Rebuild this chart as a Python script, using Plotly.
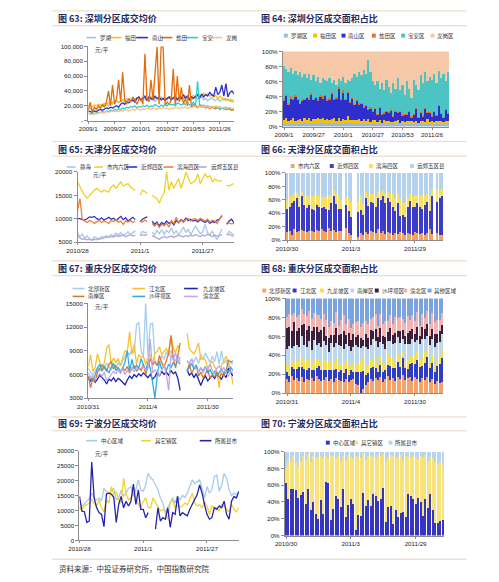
import plotly.graph_objects as go

W, H = 499, 582
CJK = "Noto Sans CJK SC"
TICKF = "Liberation Sans"
AXIS = "#8c8c8c"
BAND = "#E8D6C2"
TITLE_C = "#1F2A5C"

# ---------------- Shenzhen (fig 63 / 64), biweekly from 2009/1 ----------------
SZ_WEEKS = list(range(0, 146, 2))
SZ_TICK_POS = [0, 26, 52, 78, 104, 130]
SZ_TICK_LAB = ["2009/1", "2009/27", "2010/1", "2010/27", "2010/53", "2011/26"]
SZ_NAMES = ["罗湖", "福田", "南山", "盐田", "宝安", "龙岗"]
SZ_LUOHU = [15000,16000,14000,17000,16000,18000,17000,19000,20000,22000,
            20000,24000,22000,25000,27000,24000,26000,28000,25000,30000,
            27000,29000,26000,30000,28000,32000,27000,30000,29000,27000,
            31000,28000,30000,26000,29000,31000,28000,30000,27000,29000,
            32000,28000,30000,27000,29000,31000,28000,30000,33000,29000,
            31000,28000,30000,32000,29000,31000,33000,28000,30000,27000,
            29000,31000,28000,27000,30000,26000,28000,30000,27000,29000,
            26000,28000,27000]
SZ_FUTIAN = [20000,18000,19000,21000,20000,22000,21000,20000,23000,22000,
             24000,23000,25000,24000,27000,25000,26000,28000,27000,25000,
             29000,27000,30000,28000,31000,29000,27000,30000,32000,28000,
             30000,33000,29000,31000,28000,30000,32000,29000,31000,28000,
             30000,33000,29000,31000,30000,28000,32000,30000,33000,31000,
             29000,32000,34000,31000,33000,35000,32000,37000,34000,36000,
             33000,35000,32000,34000,30000,33000,31000,28000,30000,27000,
             29000,25000,26000]
SZ_NANSHAN = [13000,12000,11000,13000,12000,14000,15000,14000,16000,17000,
              16000,18000,17000,19000,20000,18000,22000,24000,22000,25000,
              24000,26000,28000,25000,30000,32000,28000,30000,33000,27000,
              32000,30000,28000,33000,30000,32000,28000,30000,27000,30000,
              32000,28000,30000,33000,28000,32000,30000,35000,30000,33000,
              28000,32000,30000,33000,35000,30000,36000,32000,35000,33000,
              38000,35000,33000,45000,35000,38000,48000,33000,50000,32000,
              38000,40000,36000]
SZ_YANTIAN = [15000,25000,10000,18000,15000,20000,17000,22000,18000,25000,
              40000,20000,48000,22000,30000,55000,25000,65000,28000,22000,
              30000,25000,32000,28000,22000,28000,30000,22000,90000,30000,
              25000,55000,28000,60000,100000,22000,100000,100000,20000,25000,
              22000,28000,70000,20000,60000,25000,45000,22000,30000,20000,
              48000,18000,22000,20000,18000,20000,18000,19000,17000,18000,
              16000,18000,17000,16000,18000,15000,17000,16000,15000,16000,
              15000,14000,15000]
SZ_BAOAN = [10000,9000,10000,9000,11000,10000,11000,12000,11000,13000,
            12000,14000,13000,15000,14000,16000,15000,17000,16000,18000,
            17000,19000,18000,20000,17000,19000,18000,20000,19000,21000,
            18000,20000,19000,22000,20000,18000,21000,19000,22000,20000,
            23000,21000,22000,20000,24000,22000,21000,23000,22000,24000,
            21000,22000,25000,20000,53000,22000,20000,21000,19000,20000,
            18000,19000,18000,17000,18000,16000,17000,16000,18000,15000,
            16000,15000,16000]
SZ_LONGGANG = [10000,9000,8000,10000,9000,10000,11000,10000,11000,12000,
               11000,12000,13000,12000,13000,12000,14000,13000,14000,15000,
               13000,14000,15000,14000,16000,15000,14000,16000,15000,17000,
               16000,15000,17000,16000,15000,17000,16000,18000,16000,17000,
               15000,17000,16000,18000,17000,16000,18000,17000,19000,16000,
               18000,17000,19000,18000,17000,19000,18000,20000,18000,19000,
               17000,19000,18000,20000,18000,19000,17000,18000,16000,17000,
               18000,16000,17000]

SZS_NAMES = ["罗湖区", "福田区", "南山区", "盐田区", "宝安区", "龙岗区"]
SZS_LUOHU = [4,5,3,4,5,4,3,5,4,6, 4,5,3,4,5,4,6,5,4,3, 5,4,6,4,5,3,4,5,6,4,
             3,5,4,3,4,5,3,4,3,4, 5,3,4,3,5,4,3,4,3,4, 6,3,4,3,5,4,3,4,5,3,
             4,3,4,5,3,2,4,3,4,3, 4,3,4]
SZS_FUTIAN = [5,6,4,5,7,4,6,5,3,6, 5,7,4,6,5,8,4,6,5,7, 4,6,5,3,7,5,6,4,8,5,
              6,4,5,7,3,5,4,6,3,5, 4,3,5,2,4,3,5,2,3,4, 3,2,4,3,2,3,4,2,3,2,
              3,4,2,5,3,6,2,4,3,5, 2,4,3]
SZS_NANSHAN = [25,30,22,28,24,32,26,20,27,23, 29,24,35,25,28,22,30,26,32,24,
               27,33,25,30,38,28,35,26,31,22, 28,20,25,18,23,15,20,12,18,10,
               14,9,16,11,8,13,10,15,7,12, 9,14,6,10,8,12,5,9,15,7,
               11,6,18,8,12,5,14,7,20,9, 6,15,10]
SZS_YANTIAN = [2,1,2,3,1,2,2,1,3,2, 1,2,3,2,1,2,2,3,1,2, 2,3,1,2,2,1,3,2,2,1,
               2,1,2,3,1,2,2,1,2,1, 1,2,1,1,2,1,1,2,1,1, 1,1,2,1,1,1,2,1,1,1,
               1,2,1,1,1,2,1,1,2,1, 1,1,1]
SZS_BAOAN = [44,34,41,38,33,32,31,41,29,33, 26,32,17,31,21,30,16,24,20,24,
             27,12,25,16,11,23,18,21,15,28, 25,40,30,41,37,48,41,65,46,40,
             31,43,24,41,29,41,33,22,44,29, 46,28,39,25,44,30,24,46,31,35,
             49,43,47,41,47,47,49,43,45,46, 57,37,54]
SZS_LONGGANG = [20,24,28,22,30,26,32,28,34,30, 35,30,38,32,40,34,42,36,38,40,
                35,42,38,45,37,40,34,42,38,40, 36,30,34,28,32,25,30,12,28,40,
                45,40,50,42,52,38,48,55,42,50, 35,52,45,58,40,50,62,38,45,52,
                32,42,28,40,34,38,30,42,26,36, 30,40,28]

# ---------------- Tianjin (fig 65 / 66) ----------------
TJ_TICK_POS = [0, 26, 52]
TJ_TICK_LAB = ["2010/28", "2011/1", "2011/27"]
TJ_NAMES = ["静海", "市内六区", "近郊四区", "滨海四区", "远郊五区县"]
TJ_JINGHAI = [7000,6200,6700,5800,6300,5700,5500,6100,5900,5600,
              6200,6000,6400,6100,6600,6300,6900,6500,7000,6400,
              6800,7200,6600,7000,7400,None,6600,7300,7000,7200,
              None,7200,6500,7500,6800,7700,6700,7500,7000,8000,
              6800,7400,6500,7300,8200,7100,7700,6600,7400,8400,
              7600,6800,7200,8800,7000,6500,7400,6200,5600,6800,
              7800,None,6600,7300,6900,6500]
TJ_SHINEI = [17900,16800,15800,15000,14400,15000,15600,16100,16500,16000,
             15700,16100,15900,15700,16800,17200,16500,17200,17900,17000,
             17200,17500,16800,16500,16100,None,15000,16100,15800,15400,
             None,15000,14700,14300,13300,14700,15500,20000,16100,17900,
             16500,17500,18600,16500,18000,20000,18600,17500,17800,18200,
             19600,17500,18500,19600,18900,19200,17900,18500,18200,18000,
             18200,None,17200,17000,17300,17500]
TJ_JINJIAO = [10000,10000,9800,9700,10000,10400,10300,10500,10000,9800,
              10200,9700,10000,10300,9900,10100,9600,10000,10500,9800,
              10200,9500,10000,10300,9800,None,9300,9900,10200,10400,
              None,9500,8800,9300,8500,9200,8800,9500,9000,9300,
              8700,9600,9200,9800,9400,10100,9600,9900,9500,9700,
              9300,9800,9500,9200,9600,9000,9400,9200,9700,9900,
              10600,None,8800,9500,9900,9100]
TJ_BINHAI = [11800,14300,9800,9500,9200,9600,9400,9000,9300,9700,
             9200,9500,9300,9000,9600,9400,9800,9200,9500,8800,
             9500,9300,9600,9200,9500,None,9600,9300,9700,9400,
             None,9000,8400,9000,8100,8800,8500,9000,8200,9600,
             9000,10300,9000,9700,9200,9800,10100,9500,9900,10000,
             9600,10100,9800,9500,9900,9300,9700,9500,9000,9800,
             10800,None,9200,9000,8900,9000]
TJ_YUANJIAO = [6500,5900,5600,5700,5500,5600,5400,5600,5500,5800,
               5700,5900,6100,6000,6200,6100,6400,6200,6300,6500,
               6200,6400,6600,6300,6500,None,6300,6600,6400,6700,
               None,6400,6100,5800,5600,6000,6200,5900,6100,6300,
               6000,6200,6500,6300,6100,6400,6200,6500,6300,6600,
               6400,6200,6500,6300,6700,6400,6200,6500,6300,6400,
               6600,None,6500,6700,6400,6300]

TJS_TICK_LAB = ["2010/30", "2011/3", "2011/29"]
TJS_NAMES = ["市内六区", "近郊四区", "滨海四区", "远郊五区县"]
TJS_SHINEI = [12,14,8,16,12,13,15,14,12,13, 14,12,15,13,16,14,12,18,13,15,
              12,14,13,None,18,10,8,None,None,4, 10,8,12,9,14,12,10,16,11,13,
              9,12,10,8,11,9,12,10,8,10, 9,8,12,10,9,11,8,10,16,9, None,10,8,7]
TJS_JINJIAO = [35,36,47,42,50,37,50,38,36,39, 33,33,38,36,32,35,34,27,42,51,
               42,33,34,None,34,33,27,None,None,38, 35,30,50,42,43,43,40,47,49,53,
               47,50,47,42,33,46,24,28,27,39, 49,42,37,45,41,36,44,47,28,57, None,47,55,59]
TJS_BINHAI = [12,15,10,12,8,15,6,14,16,14, 18,20,14,17,16,15,18,20,12,8,
              14,18,12,None,12,20,22,None,None,15, 22,18,10,14,12,14,16,8,10,8,
              14,10,12,18,20,15,25,18,22,14, 10,15,18,12,16,20,14,12,22,10, None,18,12,10]
TJS_YUANJIAO = [41,35,35,30,30,35,29,34,36,34, 35,35,33,34,36,36,36,35,33,26,
                32,35,41,None,36,37,43,None,None,43, 33,44,28,35,31,31,34,29,30,26,
                30,28,31,32,36,30,39,44,43,37, 32,35,33,33,34,33,34,31,34,24, None,25,25,24]

# ---------------- Chongqing (fig 67 / 68) ----------------
CQ_TICK_LAB = ["2010/31", "2011/4", "2011/30"]
CQ_NAMES = ["北部新区", "江北区", "九龙坡区", "南岸区", "沙坪坝区", "渝北区"]
CQ_BEIBU = [6800,6300,6000,6500,6900,6400,7200,6800,7400,7000,
            6600,7300,6900,7500,7100,7800,8200,8800,8500,9200,
            8700,12300,12600,9000,8200,15000,8300,12400,12500,7800,
            7200,7600,8400,7900,8900,8300,9000,8200,7700,8400,
            7600,None,None,7700,7300,8000,7600,8200,7400,8500,
            7900,8700,8100,7500,8300,7600,8900,7300,9000,7400,
            7800,6900,7600,7300]
CQ_JIANGBEI = [7000,8500,6400,6900,8600,7700,6600,7500,9300,9800,
               7300,8100,7500,8000,7100,8100,9000,8900,11400,8500,
               9800,7300,8500,8100,8300,7300,8100,8500,7200,8700,
               8900,9500,8500,8900,9300,8600,11000,9400,8800,9600,
               9300,None,None,11200,9300,8900,8600,9200,10000,7900,
               8100,7800,6800,7300,7700,7000,6400,4300,7200,7700,
               8300,7400,6500,4700]
CQ_JIULONGPO = [5700,5200,5500,5000,5400,5900,5600,5300,4800,5400,
                5200,5600,5100,5500,5300,5000,4700,5300,5800,5500,
                6000,5700,6100,5800,6200,5900,5600,6000,5400,5700,
                6300,5800,6400,6000,6300,5900,6500,6100,6300,5500,
                4000,None,None,6600,5900,6200,5600,6100,5200,4600,
                5400,5800,5200,5600,5900,5500,6100,5700,5400,6000,
                5600,6800,6300,5800]
CQ_NANAN = [5800,4300,5600,5100,6300,6800,7200,6900,6400,7300,
            7600,6700,7100,6600,6200,6800,6500,7000,6200,6700,
            7100,6400,6800,6500,7300,6000,6900,8000,7200,7600,
            7100,8400,7500,6900,7800,8700,10900,8100,6800,8600,
            10000,None,None,6500,7300,6200,6800,7200,5800,6300,
            5600,6100,6600,5500,6000,5700,6300,5600,6100,5800,
            6500,7800,7600,7700]
CQ_SHAPINGBA = [5300,5600,5100,6000,6800,7300,6400,7000,6600,6200,
                6900,7400,6500,6900,6400,6800,7600,9000,6400,7900,
                6700,7200,6800,8000,7200,6500,7600,6800,5000,3000,
                5800,7700,6600,7100,6500,7300,6900,7500,7100,7700,
                7300,None,None,6400,6900,7400,6700,7100,6300,6800,
                6500,7000,6200,6600,6000,6400,5800,6300,6700,6100,
                6600,6300,6900,6500]
CQ_YUBEI = [6200,5600,5900,5400,5700,6100,5800,6300,5200,5600,
            6000,6400,6100,6600,6300,6700,6000,6500,6200,6800,
            6400,6900,6600,6800,7000,6500,6800,10500,6200,6600,
            6300,5800,6700,7200,6000,4000,8500,7800,8800,7500,
            8200,None,None,7800,7400,7900,7100,6700,6400,6900,
            6200,7000,6600,7300,6500,6100,6800,7100,6400,6900,
            6200,5800,6400,6100]

CQS_TICK_LAB = ["2010/31", "2011/4", "2011/30"]
CQS_NAMES = ["北部新区", "江北区", "九龙坡区", "南岸区", "沙坪坝区", "渝北区", "其他区域"]
CQS_BEIBU = [15,12,18,14,16,13,17,12,15,14, 16,13,18,15,12,14,17,13,15,12,
             16,14,13,11,15,12,14,16,10,8, 0,5,9,12,15,13,16,14,17,12,
             15,18,14,16,13,17,15,19,14,16, 18,13,17,15,12,16,14,18,12,15, 10,13,11,12]
CQS_JIANGBEI = [8,6,10,12,9,15,11,14,10,13, 8,12,9,14,11,10,7,12,9,13,
                10,8,12,9,11,7,10,8,12,14, 22,18,10,9,12,15,11,8,13,10,
                9,12,15,11,14,16,12,18,13,10, 15,19,14,20,16,12,18,22,15,17, 12,16,20,25]
CQS_JIULONGPO = [10,12,8,6,9,7,10,8,11,9, 7,10,8,6,9,11,8,7,10,9,
                 12,8,7,10,9,11,6,8,7,9, 12,15,10,8,9,7,11,8,10,9,
                 7,12,8,10,6,9,11,8,7,10, 9,6,8,10,7,9,11,8,6,10, 8,7,9,10]
CQS_NANAN = [15,20,12,18,16,14,22,17,13,19, 15,21,16,18,14,20,17,12,19,15,
             16,21,18,14,17,20,15,19,22,16, 14,12,20,18,15,22,17,19,14,21,
             16,13,18,15,20,17,14,12,18,16, 13,19,15,11,17,20,14,16,18,15, 19,17,14,16]
CQS_SHAPINGBA = [22,20,18,25,15,20,12,22,18,16, 20,14,19,12,17,15,10,14,8,12,
                 16,10,13,18,9,14,11,15,8,12, 10,6,14,11,16,9,13,10,15,8,
                 12,10,14,9,11,7,13,10,8,12, 15,11,9,14,8,12,10,13,9,11, 14,10,12,9]
CQS_YUBEI = [12,14,16,10,15,13,17,11,14,16, 12,15,13,17,11,14,16,12,15,13,
             17,10,14,16,12,15,13,11,16,14, 12,18,13,15,11,14,16,12,15,13,
             17,11,14,12,16,13,15,11,14,17, 12,15,13,16,11,14,12,15,13,17, 12,14,11,13]
CQS_OTHER = [20,16,18,15,19,18,11,16,19,13, 22,15,17,18,21,16,22,30,24,26,
             15,29,23,17,27,22,31,28,25,23, 30,26,24,27,22,20,16,29,16,27,
             24,24,17,27,20,21,19,22,26,19, 24,17,24,14,29,16,20,14,27,15, 25,23,23,15]

# ---------------- Ningbo (fig 69 / 70) ----------------
NB_TICK_LAB = ["2010/28", "2011/1", "2011/27"]
NB_NAMES = ["中心区域", "其它镇区", "所属县市"]
NB_CENTER = [10000,11500,12200,13100,14000,15800,14200,13500,14200,13200,
             17400,16400,15800,16400,17400,13600,14200,16800,14800,15800,
             17400,18000,14800,17000,20200,16800,16400,18500,22400,21000,
             20200,18500,17000,14200,12500,9300,10900,12800,14200,12500,
             14800,13600,15000,14400,15800,18000,20200,19000,19600,20200,
             17500,14200,18000,15800,17000,21300,21800,16400,18500,22400,
             20800,17000,15000,15800,15400,16000]
NB_OTHER = [10900,10400,11500,12000,12500,13600,12300,11500,13600,10900,
            9500,13600,12500,18000,15300,16300,13600,12500,20700,15500,
            13600,14100,16200,13600,12000,10900,13000,14200,11000,10900,
            14200,12800,10900,9800,10400,9300,7100,12500,13600,10900,
            11500,11000,11500,12500,12000,13600,15800,12500,11500,12000,
            10900,12800,11500,8700,11500,11000,10900,9800,12000,11500,
            10400,9600,12000,10400,9500,11000]
NB_COUNTY = [14700,9800,9600,6000,6500,26200,14200,10900,9300,8700,
             4600,15500,15800,15500,14400,6000,12000,14700,10900,13100,
             11500,13100,18800,12000,16900,10400,10400,7600,9300,None,
             None,3800,10900,6500,7600,7100,10900,4400,9300,8700,
             14700,8200,9300,8700,8200,10400,12000,13500,15300,18500,
             15800,12000,8700,7100,7600,10900,10400,11500,10900,13100,
             8700,7100,13100,14700,14200,16400]

NBS_TICK_LAB = ["2010/30", "2011/3", "2011/29"]
NBS_CENTER = [63,43,55,55,54,45,48,52,38,56, 30,40,26,20,42,26,64,62,18,31,
              47,44,34,55,22,36,43,38,7,25, 23,51,35,42,35,49,47,41,43,57,
              16,34,35,14,30,22,27,28,22,50, 47,44,38,45,40,23,44,33,50,30, 15,15,17,19]
NBS_OTHER = [17,44,32,41,33,37,40,43,52,41, 58,55,67,74,53,66,32,29,77,65,
             45,52,54,40,68,60,50,54,88,69, 69,46,55,53,61,45,45,55,52,40,
             72,59,61,81,62,72,69,62,73,43, 45,52,56,45,55,70,52,56,44,62, 72,70,71,65]
NBS_COUNTY = [20,13,13,4,13,18,12,5,10,3, 12,5,7,6,5,8,4,9,5,4,
              8,4,12,5,10,4,7,8,5,6, 8,3,10,5,4,6,8,4,5,3,
              12,7,4,5,8,6,4,10,5,7, 8,4,6,10,5,7,4,11,6,8, 13,15,12,16]

PCT_VALS = [0, 20, 40, 60, 80, 100]
PCT_TEXT = ["0%", "20%", "40%", "60%", "80%", "100%"]

# ---------------- helpers ----------------
def px(x):
    return x / W

def py(y):
    return 1 - y / H

fig = go.Figure()
layout = {}
shapes = []
annos = []
LEG_SIZE = 5.5


def add_axes(i, x0, x1, y0, y1, xr, yr, xtv, xtt, ytv, ytt):
    xa = "xaxis" if i == 1 else f"xaxis{i}"
    ya = "yaxis" if i == 1 else f"yaxis{i}"
    xid = "x" if i == 1 else f"x{i}"
    yid = "y" if i == 1 else f"y{i}"
    common = dict(showgrid=False, zeroline=False, showline=True, linecolor=AXIS,
                  linewidth=1, ticks="outside", tickwidth=1, tickcolor=AXIS,
                  tickfont=dict(family=TICKF, size=6.2, color="#222"),
                  fixedrange=True, tickmode="array", tickangle=0)
    layout[xa] = dict(domain=[px(x0), px(x1)], anchor=yid, range=xr,
                      tickvals=xtv, ticktext=xtt, ticklen=2, **common)
    layout[ya] = dict(domain=[py(y1), py(y0)], anchor=xid, range=yr,
                      tickvals=ytv, ticktext=ytt, ticklen=3, **common)
    return xid, yid


def lines(xid, yid, names, seriess, colors, width=1.3):
    for name, ys, c in zip(names, seriess, colors):
        fig.add_trace(go.Scatter(x=list(range(len(ys))), y=ys, name=name, mode="lines",
                                 line=dict(color=c, width=width), xaxis=xid, yaxis=yid,
                                 showlegend=False, hoverinfo="skip", connectgaps=False))


def bars(xid, yid, xs, names, seriess, colors, width):
    for name, ys, c in zip(names, seriess, colors):
        fig.add_trace(go.Bar(x=xs, y=ys, name=name, width=width,
                             marker=dict(color=c, line=dict(width=0)),
                             xaxis=xid, yaxis=yid, showlegend=False, hoverinfo="skip"))


def text(x, y, s, size=LEG_SIZE, color="#333", anchor="left", family=CJK):
    annos.append(dict(xref="paper", yref="paper", x=px(x), y=py(y), text=s,
                      xanchor=anchor, yanchor="middle", showarrow=False,
                      font=dict(family=family, size=size, color=color)))


def leg_line(x0, x1, tx, y, color, label):
    shapes.append(dict(type="line", xref="paper", yref="paper", x0=px(x0), x1=px(x1),
                       y0=py(y), y1=py(y), line=dict(color=color, width=1.6)))
    text(tx, y, label)


def leg_box(x, y, color, label):
    shapes.append(dict(type="rect", xref="paper", yref="paper", x0=px(x - 2), x1=px(x + 2),
                       y0=py(y + 2), y1=py(y - 2), fillcolor=color, line=dict(width=0)))
    text(x + 3, y, label)


def band(y_top, y_bot, y_title, x_left, title_left, x_right, title_right):
    for yy in (y_top, y_bot):
        shapes.append(dict(type="line", xref="paper", yref="paper", x0=px(42), x1=px(466),
                           y0=py(yy), y1=py(yy), line=dict(color=BAND, width=1)))
    text(x_left, y_title, "<b>" + title_left + "</b>", size=9, color=TITLE_C)
    text(x_right, y_title, "<b>" + title_right + "</b>", size=9, color=TITLE_C)


# ---------------- title bands ----------------
band(7, 22, 15, 46, "图 63: 深圳分区成交均价", 254, "图 64: 深圳分区成交面积占比")
band(139, 154, 147, 46, "图 65: 天津分区成交均价", 254, "图 66: 天津分区成交面积占比")
band(260, 275, 268, 46, "图 67: 重庆分区成交均价", 254, "图 68: 重庆分区成交面积占比")
band(418, 432, 425, 46, "图 69: 宁波分区成交均价", 254, "图 70: 宁波分区成交面积占比")
shapes.append(dict(type="line", xref="paper", yref="paper", x0=px(42), x1=px(466),
                   y0=py(562), y1=py(562), line=dict(color=BAND, width=1)))
text(47, 571, "资料来源：中投证券研究所，中国指数研究院", size=7.5, color="#333")

# ---------------- fig 63 ----------------
SZ_COLORS = ["#9DC3E6", "#FFC000", "#3333CC", "#E46C0A", "#33CCCC", "#FAC090"]
x1_, y1_ = add_axes(1, 79, 228, 43, 118, [0, 144], [0, 100000], SZ_TICK_POS, SZ_TICK_LAB,
                    [0, 20000, 40000, 60000, 80000, 100000],
                    ["-", "20,000", "40,000", "60,000", "80,000", "100,000"])
for name, ys, c in zip(SZ_NAMES, [SZ_LUOHU, SZ_FUTIAN, SZ_NANSHAN, SZ_YANTIAN, SZ_BAOAN, SZ_LONGGANG], SZ_COLORS):
    fig.add_trace(go.Scatter(x=SZ_WEEKS, y=ys, name=name, mode="lines", line=dict(color=c, width=1.3),
                             xaxis=x1_, yaxis=y1_, showlegend=False, hoverinfo="skip"))
text(84, 47, "元/平")
for (a, b, t), name, c in zip([(77, 87, 89), (101, 113, 115), (128, 140, 142), (153, 165, 167),
                              (179, 191, 193), (205, 216, 218)], SZ_NAMES, SZ_COLORS):
    leg_line(a, b, t, 34, c, name)

# ---------------- fig 64 ----------------
SZS_COLORS = ["#9DB9D8", "#F2C200", "#2E2ECC", "#E8712A", "#4CC4C4", "#F5C9A8"]
x2_, y2_ = add_axes(2, 278, 448, 48, 124, [-1, 145], [0, 100], SZ_TICK_POS, SZ_TICK_LAB, PCT_VALS, PCT_TEXT)
bars(x2_, y2_, SZ_WEEKS, SZS_NAMES,
     [SZS_LUOHU, SZS_FUTIAN, SZS_NANSHAN, SZS_YANTIAN, SZS_BAOAN, SZS_LONGGANG], SZS_COLORS, 2.0)
for x, name, c in zip([281, 311, 340, 371, 401, 431], SZS_NAMES, SZS_COLORS):
    leg_box(x, 32, c, name)

# ---------------- fig 65 ----------------
TJ_COLORS = ["#A6C8E8", "#F2CF2A", "#3333CC", "#E8823A", "#B7A6D8"]
x3_, y3_ = add_axes(3, 68, 228, 170, 241, [0, 65], [5000, 20000], TJ_TICK_POS, TJ_TICK_LAB,
                    [5000, 10000, 15000, 20000], ["5000", "10000", "15000", "20000"])
lines(x3_, y3_, TJ_NAMES, [TJ_JINGHAI, TJ_SHINEI, TJ_JINJIAO, TJ_BINHAI, TJ_YUANJIAO], TJ_COLORS)
text(82, 173, "元/平")
for (a, b, t), name, c in zip([(57, 66, 68), (85, 94, 96), (118, 129, 131), (156, 166, 168), (190, 200, 202)],
                              TJ_NAMES, TJ_COLORS):
    leg_line(a, b, t, 165, c, name)

# ---------------- fig 66 ----------------
TJS_COLORS = ["#F4A460", "#3C3CC8", "#F8E060", "#B4D2EE"]
x4_, y4_ = add_axes(4, 281, 442, 171, 239, [-0.5, 63.5], [0, 100], TJ_TICK_POS, TJS_TICK_LAB, PCT_VALS, PCT_TEXT)
bars(x4_, y4_, list(range(len(TJS_SHINEI))), TJS_NAMES,
     [TJS_SHINEI, TJS_JINJIAO, TJS_BINHAI, TJS_YUANJIAO], TJS_COLORS, 0.55)
for x, name, c in zip([288, 328, 368, 410], TJS_NAMES, TJS_COLORS):
    leg_box(x, 164, c, name)

# ---------------- fig 67 ----------------
CQ_COLORS = ["#A6CDF0", "#F5C230", "#2222AA", "#E0782A", "#33AADD", "#C0A8E8"]
x5_, y5_ = add_axes(5, 79, 227, 303, 399, [0, 63], [3000, 15000], TJ_TICK_POS, CQ_TICK_LAB,
                    [3000, 6000, 9000, 12000, 15000], ["3000", "6000", "9000", "12000", "15000"])
lines(x5_, y5_, CQ_NAMES, [CQ_BEIBU, CQ_JIANGBEI, CQ_JIULONGPO, CQ_NANAN, CQ_SHAPINGBA, CQ_YUBEI], CQ_COLORS)
text(84, 307, "元/平")
cols = [(63, 75, 77), (124, 137, 139), (177, 191, 194)]
for k, (name, c) in enumerate(zip(CQ_NAMES, CQ_COLORS)):
    a, b, t = cols[k % 3]
    leg_line(a, b, t, 288 if k < 3 else 296, c, name)

# ---------------- fig 68 ----------------
CQS_COLORS = ["#F4A46A", "#2F3DC4", "#F5E050", "#BCD8F0", "#3A1F3A", "#F4B3B3", "#7BA3DD"]
x6_, y6_ = add_axes(6, 281, 442, 298, 394, [-0.5, 63.5], [0, 100], TJ_TICK_POS, CQS_TICK_LAB, PCT_VALS, PCT_TEXT)
bars(x6_, y6_, list(range(len(CQS_BEIBU))), CQS_NAMES,
     [CQS_BEIBU, CQS_JIANGBEI, CQS_JIULONGPO, CQS_NANAN, CQS_SHAPINGBA, CQS_YUBEI, CQS_OTHER],
     CQS_COLORS, 0.6)
for x, name, c in zip([259, 290, 318, 349, 374, 403, 428], CQS_NAMES, CQS_COLORS):
    leg_box(x, 290, c, name)

# ---------------- fig 69 ----------------
NB_COLORS = ["#A9CBEB", "#F2D32C", "#2424B0"]
x7_, y7_ = add_axes(7, 70, 233, 452, 543, [0, 65], [0, 30000], TJ_TICK_POS, NB_TICK_LAB,
                    [0, 5000, 10000, 15000, 20000, 25000, 30000],
                    ["0", "5000", "10000", "15000", "20000", "25000", "30000"])
lines(x7_, y7_, NB_NAMES, [NB_CENTER, NB_OTHER, NB_COUNTY], NB_COLORS)
text(84, 455, "元/平")
for (a, b, t), name, c in zip([(77, 88, 90), (133, 143, 145), (193, 205, 207)], NB_NAMES, NB_COLORS):
    leg_line(a, b, t, 442, c, name)

# ---------------- fig 70 ----------------
NBS_COLORS = ["#3535C0", "#F9E27A", "#B8D4EF"]
x8_, y8_ = add_axes(8, 280, 443, 453, 538, [-0.5, 63.5], [0, 100], TJ_TICK_POS, NBS_TICK_LAB, PCT_VALS, PCT_TEXT)
bars(x8_, y8_, list(range(len(NBS_CENTER))), NB_NAMES, [NBS_CENTER, NBS_OTHER, NBS_COUNTY], NBS_COLORS, 0.6)
for x, name, c in zip([324, 353, 388], NB_NAMES, NBS_COLORS):
    leg_box(x, 444, c, name)

fig.update_layout(
    width=W, height=H, margin=dict(l=0, r=0, t=0, b=0),
    paper_bgcolor="white", plot_bgcolor="white",
    barmode="stack", barnorm="percent", showlegend=False,
    shapes=shapes, annotations=annos, **layout,
)
fig.write_html("out.html", config={"displayModeBar": False},
               post_script="document.body.style.margin='0';document.body.style.overflow='hidden';")
